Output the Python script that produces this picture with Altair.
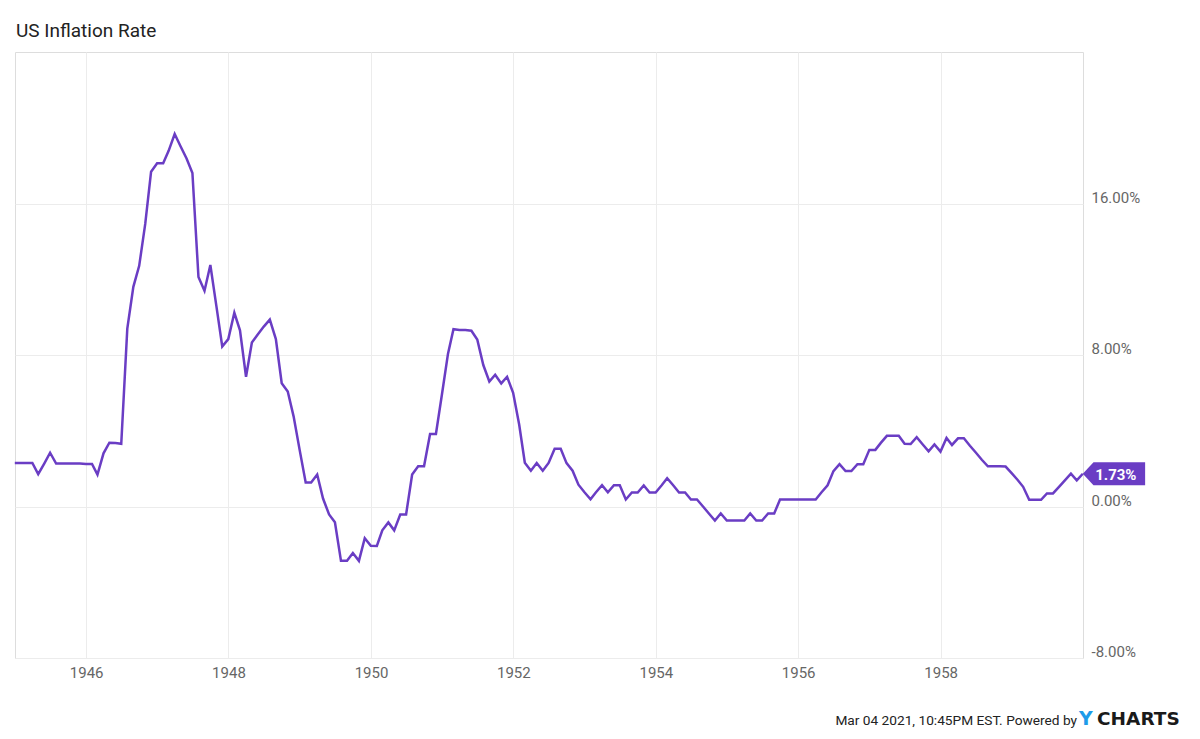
import altair as alt
import pandas as pd

# ---- data (monthly US CPI inflation, % YoY, plotted at month end) ----
first_month = "1944-12"
dec_1944 = [2.30]
y1945 = [2.30, 2.30, 2.30, 1.71, 2.27, 2.84, 2.27, 2.27, 2.27, 2.27, 2.27, 2.25]
y1946 = [2.25, 1.69, 2.81, 3.37, 3.35, 3.31, 9.39, 11.60, 12.71, 14.92, 17.68, 18.13]
y1947 = [18.13, 18.78, 19.67, 19.02, 18.38, 17.61, 12.12, 11.39, 12.75, 10.58, 8.45, 8.84]
y1948 = [10.23, 9.30, 6.85, 8.66, 9.09, 9.50, 9.87, 8.84, 6.51, 6.07, 4.76, 2.99]
y1949 = [1.27, 1.27, 1.69, 0.42, -0.42, -0.83, -2.87, -2.87, -2.46, -2.87, -1.67, -2.07]
y1950 = [-2.08, -1.26, -0.84, -1.26, -0.42, -0.42, 1.69, 2.12, 2.12, 3.83, 3.83, 5.93]
y1951 = [8.07, 9.36, 9.32, 9.32, 9.28, 8.82, 7.47, 6.60, 6.96, 6.50, 6.85, 6.00]
y1952 = [4.33, 2.31, 1.89, 2.30, 1.89, 2.30, 3.05, 3.05, 2.29, 1.89, 1.15, 0.75]
y1953 = [0.38, 0.75, 1.13, 0.75, 1.12, 1.12, 0.37, 0.74, 0.74, 1.11, 0.74, 0.74]
y1954 = [1.12, 1.49, 1.12, 0.74, 0.74, 0.37, 0.37, 0.00, -0.37, -0.74, -0.37, -0.74]
y1955 = [-0.74, -0.74, -0.74, -0.37, -0.74, -0.74, -0.37, -0.37, 0.37, 0.37, 0.37, 0.37]
y1956 = [0.37, 0.37, 0.37, 0.75, 1.12, 1.87, 2.24, 1.87, 1.87, 2.23, 2.23, 2.99]
y1957 = [2.99, 3.36, 3.73, 3.73, 3.73, 3.31, 3.30, 3.66, 3.29, 2.91, 3.28, 2.90]
y1958 = [3.62, 3.25, 3.60, 3.60, 3.21, 2.85, 2.47, 2.12, 2.12, 2.12, 2.11, 1.76]
y1959 = [1.40, 1.04, 0.35, 0.35, 0.35, 0.69, 0.69, 1.04, 1.38, 1.73, 1.38, 1.73]

year_ticks = [1946, 1948, 1950, 1952, 1954, 1956, 1958]
pct_ticks = [-8, 0, 8, 16]
title_text = ["US Inflation Rate"]
footer_text = ["Mar 04 2021, 10:45PM EST. Powered by"]
logo_y = ["Y"]
logo_rest = ["CHARTS"]

values = (dec_1944 + y1945 + y1946 + y1947 + y1948 + y1949 + y1950 + y1951
          + y1952 + y1953 + y1954 + y1955 + y1956 + y1957 + y1958 + y1959)
dates = pd.date_range(first_month + "-01", periods=len(values), freq="MS") + pd.offsets.MonthEnd(0)
df = pd.DataFrame({"date": dates, "value": values})
last_df = df.iloc[[-1]].copy()

PURPLE = "#6a3dc4"
W, H = 1068, 606

x_enc = alt.X("date:T",
              scale=alt.Scale(domain=[alt.DateTime(year=1945, month=1, date=1),
                                      alt.DateTime(year=1960, month=1, date=1)]),
              axis=alt.Axis(values=[alt.DateTime(year=y, month=1, date=1) for y in year_ticks],
                            format="%Y", title=None, ticks=False, domain=False,
                            labelPadding=7, grid=True))
y_enc = alt.Y("value:Q",
              scale=alt.Scale(domain=[-8, 24], nice=False, zero=False),
              axis=alt.Axis(orient="right", values=pct_ticks, title=None, ticks=False,
                            tickSize=0, domain=False, labelPadding=8, labelAlign="left",
                            labelBaseline="alphabetic", labelOffset=-1.5,
                            labelOverlap=False,
                            labelExpr="(datum.value < 0 ? '-' : '') + format(abs(datum.value), '.2f') + '%'",
                            grid=True))

line = alt.Chart(df).mark_line(color=PURPLE, strokeWidth=2.5).encode(x=x_enc, y=y_enc)

flag = alt.Chart(last_df).mark_point(
    shape="M0,0L0.343,-0.369L2,-0.369L2,0.369L0.343,0.369Z",
    size=3881, filled=True, fill=PURPLE, opacity=1, strokeWidth=0
).encode(x="date:T", y="value:Q")

flag_text = alt.Chart(last_df).transform_calculate(
    label="format(datum.value, '.2f') + '%'"
).mark_text(align="center", baseline="middle", dx=33, dy=1, font="Roboto",
            fontSize=15, fontWeight="bold", color="white").encode(
    x="date:T", y="value:Q", text="label:N")

title = alt.Chart(pd.DataFrame({"t": title_text})).mark_text(
    align="left", baseline="alphabetic", font="Roboto", fontSize=19, color="#222222"
).encode(x=alt.value(1), y=alt.value(-15), text="t:N")

footer = alt.Chart(pd.DataFrame({"t": footer_text})).mark_text(
    align="right", baseline="alphabetic", font="Roboto", fontSize=13.7, color="#222222"
).encode(x=alt.value(1062), y=alt.value(673), text="t:N")

logo1 = alt.Chart(pd.DataFrame({"t": logo_y})).mark_text(
    align="left", baseline="alphabetic", font="DejaVu Sans", fontSize=19,
    fontWeight="bold", color="#1e9be9"
).encode(x=alt.value(1064), y=alt.value(673), text="t:N")

logo2 = alt.Chart(pd.DataFrame({"t": logo_rest})).mark_text(
    align="left", baseline="alphabetic", font="DejaVu Sans", fontSize=18.5,
    fontWeight="bold", color="#1a1a1a"
).encode(x=alt.value(1082), y=alt.value(673), text="t:N")

chart = alt.layer(line, flag, flag_text, title, footer, logo1, logo2).properties(
    width=W, height=H,
    padding={"left": 7, "top": 44, "right": 109, "bottom": 72},
    autosize=alt.AutoSizeParams(type="none"),
).configure(background="white").configure_view(
    stroke="#dddddd", strokeWidth=1
).configure_axis(
    gridColor="#ececec", gridWidth=1, labelFont="Roboto", labelFontSize=15,
    labelColor="#666666"
)

chart.save("out.html", embed_options={"renderer": "svg", "actions": False})
